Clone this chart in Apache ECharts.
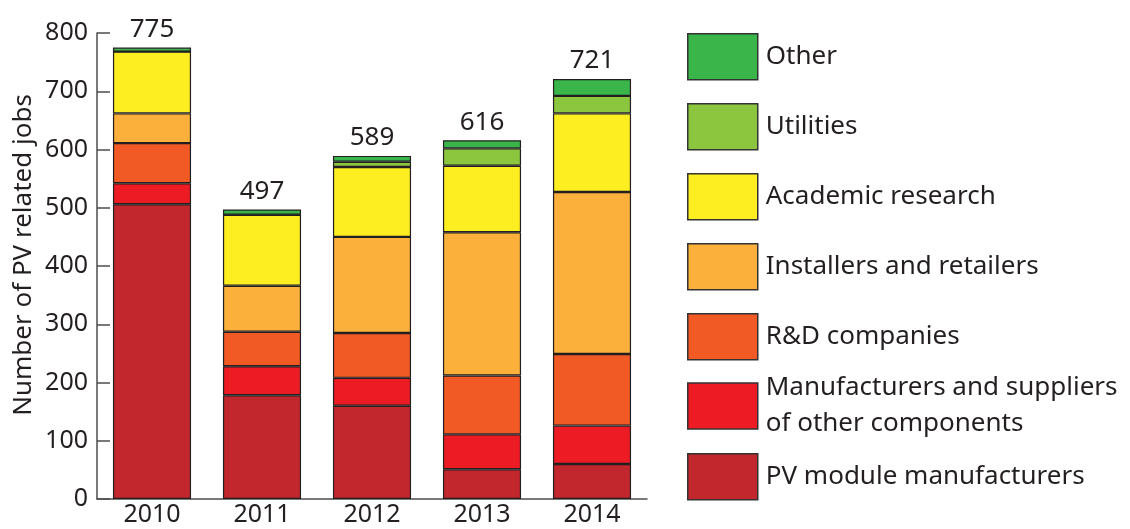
<!DOCTYPE html>
<html><head><meta charset="utf-8">
<script src="https://cdn.jsdelivr.net/npm/echarts@6/dist/echarts.min.js"></script>
<style>html,body{margin:0;padding:0;background:#fff}#c{width:1130px;height:529px}</style>
</head><body><div id="c"></div>
<script>
const years = ['2010','2011','2012','2013','2014'];
const pvModule = [506, 178, 160, 51, 60];
const otherComponents = [36, 50, 48, 60, 66];
const rdCompanies = [69, 59, 77, 101, 123];
const installers = [51, 79, 165, 246, 278];
const academic = [106, 122, 120, 114, 135];
const utilities = [0, 0, 9, 30, 30];
const other = [7, 9, 10, 14, 29];
const yTicks = [0, 100, 200, 300, 400, 500, 600, 700, 800];

const seriesDefs = [
  {name: 'PV module manufacturers', data: pvModule, color: '#C1272D'},
  {name: 'Manufacturers and suppliers\nof other components', data: otherComponents, color: '#ED1C24'},
  {name: 'R&D companies', data: rdCompanies, color: '#F15A24'},
  {name: 'Installers and retailers', data: installers, color: '#FBB03B'},
  {name: 'Academic research', data: academic, color: '#FCEE21'},
  {name: 'Utilities', data: utilities, color: '#8CC63F'},
  {name: 'Other', data: other, color: '#39B54A'}
];
const totals = years.map((_, i) => seriesDefs.reduce((s, d) => s + d.data[i], 0));

const txt = '#231F20';
const font = 'Noto Sans';
const chart = echarts.init(document.getElementById('c'));

const legendOrder = seriesDefs.slice().reverse();
const lineH = 36, iconH = 46;
const legends = legendOrder.map((d, i) => {
  const lines = d.name.split('\n').length;
  const extra = Math.max(0, lines * lineH - iconH) / 2;
  return {
    data: [d.name],
    orient: 'vertical',
    left: 687,
    top: 33 + i * 70 - extra,
    padding: 0,
    itemWidth: 70,
    itemHeight: iconH,
    icon: 'rect',
    selectedMode: false,
    itemStyle: {borderColor: '#333', borderWidth: 1.5},
    textStyle: {fontFamily: font, fontSize: 26, color: txt, lineHeight: lineH, padding: [0, 0, 0, 3]}
  };
});

chart.setOption({
  animation: false,
  textStyle: {fontFamily: font},
  grid: {left: 97, right: 483, top: 33, bottom: 30},
  legend: legends,
  xAxis: {
    type: 'category',
    data: years,
    axisLine: {lineStyle: {color: '#4d4d4d', width: 1.5}},
    axisTick: {inside: true, length: 11, lineStyle: {color: '#4d4d4d', width: 1.5}},
    axisLabel: {fontFamily: font, fontSize: 25, color: txt, margin: 3}
  },
  yAxis: {
    type: 'value',
    min: yTicks[0],
    max: yTicks[yTicks.length - 1],
    interval: 100,
    name: 'Number of PV related jobs',
    nameLocation: 'middle',
    nameGap: 60,
    nameTextStyle: {fontFamily: font, fontSize: 26, color: txt, padding: [0, 0, 0, 22]},
    splitLine: {show: false},
    axisLine: {show: true, lineStyle: {color: '#4d4d4d', width: 1.5}},
    axisTick: {show: true, inside: true, length: 13, lineStyle: {color: '#4d4d4d', width: 1.5}},
    axisLabel: {fontFamily: font, fontSize: 25, color: txt, margin: 9}
  },
  series: seriesDefs.map((d, idx) => ({
    name: d.name,
    type: 'bar',
    stack: 'jobs',
    barWidth: '71%',
    data: d.data,
    itemStyle: {color: d.color, borderColor: '#231F20', borderWidth: 1.2},
    label: idx === seriesDefs.length - 1 ? {
      show: true,
      position: 'top',
      distance: 5,
      fontFamily: font,
      fontSize: 26,
      color: txt,
      formatter: p => String(totals[p.dataIndex])
    } : {show: false}
  }))
});
</script>
</body></html>
